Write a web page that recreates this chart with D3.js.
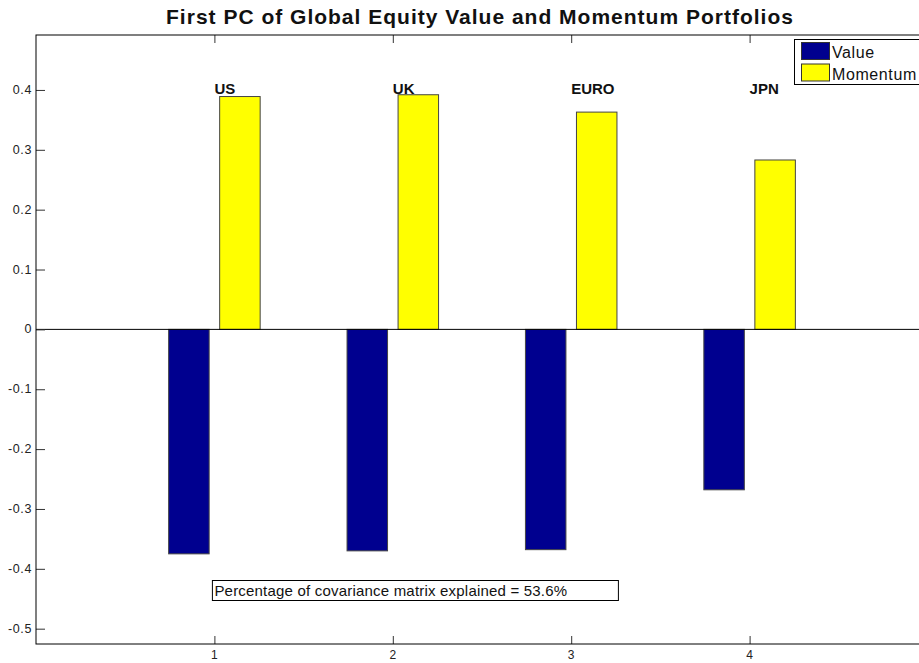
<!DOCTYPE html>
<html>
<head>
<meta charset="utf-8">
<script src="https://cdn.jsdelivr.net/npm/d3@7"></script>
<style>
  body { margin: 0; background: #fff; }
  svg { display: block; font-family: "Liberation Sans", Arial, Helvetica, sans-serif; }
</style>
</head>
<body>
<div class="plot"></div>
<script>
// chart data
var regions = ["US", "UK", "EURO", "JPN"];
var valueLoadings = [-0.375, -0.370, -0.368, -0.268];
var momentumLoadings = [0.389, 0.392, 0.363, 0.283];
var seriesNames = ["Value", "Momentum"];
var yTicks = [-0.5, -0.4, -0.3, -0.2, -0.1, 0, 0.1, 0.2, 0.3, 0.4];
var xTicks = [1, 2, 3, 4];
var titleText = "First PC of Global Equity Value and Momentum Portfolios";
var noteText = "Percentage of covariance matrix explained = 53.6%";

var colors = ["#00008f", "#ffff00"];

var W = 919, H = 663;
// axes box (right edge falls just outside the picture, like the original)
var box = { left: 36, top: 35, right: 928, bottom: 644 };

var svg = d3.select(".plot")
  .append("svg")
  .attr("width", W)
  .attr("height", H);

// scales (MATLAB style: x in [0,5])
var x = d3.scaleLinear().domain([0, 5]).range([box.left, box.right]);
var y = d3.scaleLinear().domain([-0.5256, 0.4918]).range([box.bottom, box.top]);

var barW = 0.227;   // in x units
var offset = 0.143; // group offset

// bars
var series = [valueLoadings, momentumLoadings];
series.forEach(function (vals, s) {
  var off = s == 0 ? -offset : offset;
  svg.append("g").selectAll("rect")
    .data(vals)
    .enter().append("rect")
    .attr("x", function (d, i) { return x(i + 1 + off - barW / 2); })
    .attr("width", function () { return x(barW) - x(0); })
    .attr("y", function (d) { return y(Math.max(0, d)); })
    .attr("height", function (d) { return Math.abs(y(d) - y(0)); })
    .style("fill", colors[s])
    .style("stroke", "#444")
    .style("stroke-width", 1);
});

// zero baseline
svg.append("line")
  .attr("x1", box.left).attr("x2", box.right)
  .attr("y1", y(0)).attr("y2", y(0))
  .style("stroke", "#000");

// axes with inward ticks
var yAxisL = d3.axisRight(y).tickValues(yTicks).tickSize(9).tickFormat("");
var yAxisR = d3.axisLeft(y).tickValues(yTicks).tickSize(9).tickFormat("");
var xAxisB = d3.axisTop(x).tickValues(xTicks).tickSize(8).tickFormat("");
var xAxisT = d3.axisBottom(x).tickValues(xTicks).tickSize(8).tickFormat("");

svg.append("g").attr("transform", "translate(" + box.left + ",0)").call(yAxisL);
svg.append("g").attr("transform", "translate(" + box.right + ",0)").call(yAxisR);
svg.append("g").attr("transform", "translate(0," + box.bottom + ")").call(xAxisB);
svg.append("g").attr("transform", "translate(0," + box.top + ")").call(xAxisT);
svg.selectAll(".domain").remove();
svg.selectAll(".tick line").style("stroke", "#333");

// frame
svg.append("rect")
  .attr("x", box.left).attr("y", box.top)
  .attr("width", box.right - box.left).attr("height", box.bottom - box.top)
  .style("fill", "none").style("stroke", "#000");

// tick labels (plain hyphen for negatives, like MATLAB)
svg.append("g").selectAll("text")
  .data(yTicks)
  .enter().append("text")
  .attr("x", box.left - 4)
  .attr("y", function (d) { return y(d) + 4; })
  .attr("text-anchor", "end")
  .style("font-size", "12.5px")
  .style("letter-spacing", "0.6px")
  .style("fill", "#222")
  .text(function (d) { return d == 0 ? "0" : d.toFixed(1); });

svg.append("g").selectAll("text")
  .data(xTicks)
  .enter().append("text")
  .attr("x", function (d) { return x(d); })
  .attr("y", box.bottom + 15)
  .attr("text-anchor", "middle")
  .style("font-size", "12px")
  .style("fill", "#222")
  .text(function (d) { return d; });

// region labels
svg.append("g").selectAll("text")
  .data(regions)
  .enter().append("text")
  .attr("x", function (d, i) { return x(i + 1); })
  .attr("y", y(0.4) + 4)
  .style("font-size", "15px")
  .style("font-weight", "bold")
  .style("fill", "#111")
  .text(function (d) { return d; });

// title
svg.append("text")
  .attr("x", 480)
  .attr("y", 24)
  .attr("text-anchor", "middle")
  .style("font-size", "21px")
  .style("font-weight", "bold")
  .style("letter-spacing", "1px")
  .style("fill", "#111")
  .text(titleText);

// note box
var note = svg.append("g");
note.append("rect")
  .attr("x", x(1) - 2).attr("y", 580.5)
  .attr("width", 406).attr("height", 20)
  .style("fill", "#fff").style("stroke", "#000");
note.append("text")
  .attr("x", x(1))
  .attr("y", 596)
  .style("font-size", "15px")
  .style("letter-spacing", "0.2px")
  .style("fill", "#111")
  .text(noteText);

// legend
var lg = svg.append("g");
lg.append("rect")
  .attr("x", 794.5).attr("y", 39.5)
  .attr("width", 140).attr("height", 45)
  .style("fill", "#fff").style("stroke", "#000");
seriesNames.forEach(function (name, s) {
  lg.append("rect")
    .attr("x", 801.5).attr("y", 42.5 + s * 21.5)
    .attr("width", 28).attr("height", 17)
    .style("fill", colors[s]).style("stroke", "#333");
  lg.append("text")
    .attr("x", 832)
    .attr("y", 57.5 + s * 22)
    .style("font-size", "16px")
    .style("letter-spacing", "0.6px")
    .style("fill", "#111")
    .text(name);
});
</script>
</body>
</html>
